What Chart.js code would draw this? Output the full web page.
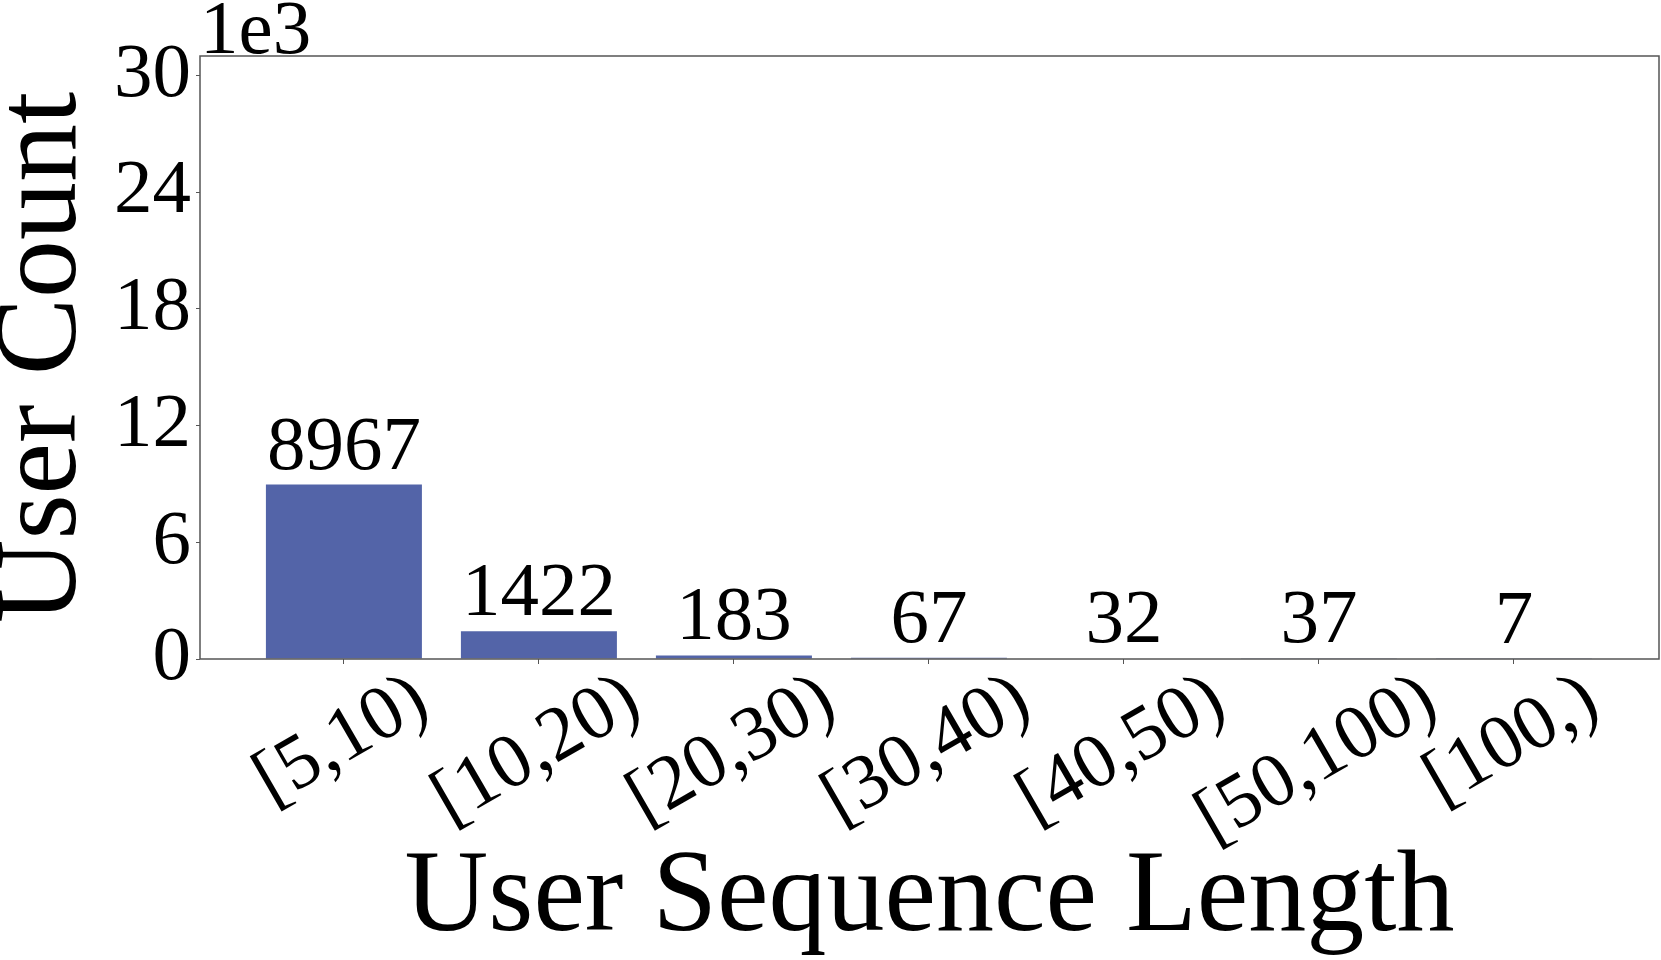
<!DOCTYPE html>
<html>
<head>
<meta charset="utf-8">
<script src="https://cdn.jsdelivr.net/npm/chart.js@4.4.1/dist/chart.umd.min.js"></script>
<style>
    html, body { margin: 0; padding: 0; background: #fff; }
    canvas { display: block; }
</style>
</head>
<body>
<canvas id="SeqChart" width="1661" height="960"></canvas>
<script>
const categories = ["[5,10)", "[10,20)", "[20,30)", "[30,40)", "[40,50)", "[50,100)", "[100,)"];
const userCounts = [8967, 1422, 183, 67, 32, 37, 7];
const yTicks = [0, 6, 12, 18, 24, 30]; // thousands, axis shows "1e3"
const yMax = 31000;

const FONT = "'Liberation Serif', 'Times New Roman', serif";
const AXIS_COLOR = "#555";

// value labels above bars, rotated x labels, "1e3" offset text and the box
const extrasPlugin = {
    id: "extras",
    afterDatasetsDraw(chart) {
        const ctx = chart.ctx;
        const area = chart.chartArea;
        const x = chart.scales.x;
        const y = chart.scales.y;

        ctx.save();
        ctx.fillStyle = "#000";
        ctx.font = "77px " + FONT;
        ctx.textAlign = "center";
        ctx.textBaseline = "alphabetic";
        userCounts.forEach((v, i) => {
            ctx.fillText(String(v), x.getPixelForValue(i), y.getPixelForValue(v) - 16);
        });

        // category labels, rotated 30deg, centred on the tick
        const ang = Math.PI / 6;
        const h = 0.66 * 77;
        ctx.textBaseline = "middle";
        categories.forEach((label, i) => {
            const w = ctx.measureText(label).width;
            const ext = w * Math.sin(ang) + h * Math.cos(ang);
            ctx.save();
            ctx.translate(x.getPixelForValue(i) - 2, area.bottom + 14 + ext / 2);
            ctx.rotate(-ang);
            ctx.fillText(label, 0, 0);
            ctx.restore();
        });

        ctx.textAlign = "left";
        ctx.textBaseline = "alphabetic";
        ctx.fillText("1e3", area.left, area.top - 3);

        ctx.strokeStyle = AXIS_COLOR;
        ctx.lineWidth = 1.5;
        ctx.strokeRect(area.left, area.top, area.right - area.left, area.bottom - area.top);
        ctx.restore();
    },
};

function SeqChart() {
    const ctx = document.getElementById("SeqChart");

    new Chart(ctx, {
        type: "bar",
        data: {
            datasets: [
                {
                    label: "User Count",
                    data: userCounts.map((v, i) => ({ x: i, y: v })),
                    backgroundColor: "#5364a8",
                    borderWidth: 0,
                    barPercentage: 0.8,
                    categoryPercentage: 1.0,
                },
            ],
        },
        options: {
            responsive: false,
            animation: false,
            devicePixelRatio: 1,
            layout: {
                padding: { top: 56, right: 2, bottom: 0, left: 0 },
            },
            plugins: {
                legend: { display: false },
                tooltip: { enabled: false },
            },
            scales: {
                x: {
                    type: "linear",
                    min: -0.738,
                    max: 6.744,
                    offset: false,
                    afterBuildTicks: (scale) => {
                        scale.ticks = categories.map((c, i) => ({ value: i }));
                    },
                    afterFit: (scale) => {
                        scale.height = 301;
                    },
                    ticks: { display: false },
                    grid: {
                        display: true,
                        offset: false,
                        drawOnChartArea: false,
                        drawTicks: true,
                        tickLength: 5,
                        tickColor: AXIS_COLOR,
                    },
                    border: { display: false },
                    title: {
                        display: true,
                        text: "User Sequence Length",
                        color: "#000",
                        font: { family: FONT, size: 116, lineHeight: 1.04 },
                        padding: 0,
                    },
                },
                y: {
                    min: 0,
                    max: yMax,
                    afterBuildTicks: (scale) => {
                        scale.ticks = yTicks.map((t) => ({ value: t * 1000 }));
                    },
                    afterFit: (scale) => {
                        scale.width = 200;
                    },
                    ticks: {
                        color: "#000",
                        padding: 5,
                        font: { family: FONT, size: 77 },
                        callback: (value) => String(value / 1000),
                    },
                    grid: {
                        display: true,
                        drawOnChartArea: false,
                        drawTicks: true,
                        tickLength: 4,
                        tickColor: AXIS_COLOR,
                    },
                    border: { display: false },
                    title: {
                        display: true,
                        text: "User Count",
                        color: "#000",
                        font: { family: FONT, size: 116, lineHeight: 0.76 },
                        padding: 0,
                    },
                },
            },
        },
        plugins: [extrasPlugin],
    });
}

SeqChart();
</script>
</body>
</html>
